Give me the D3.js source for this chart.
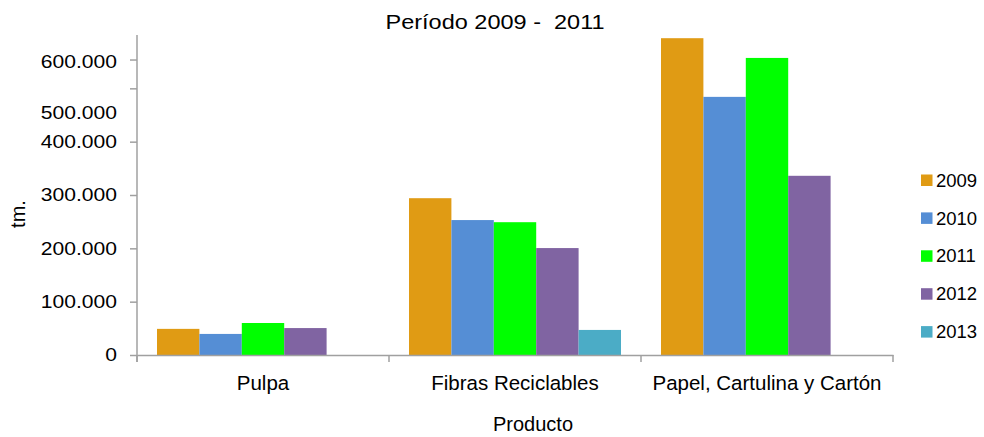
<!DOCTYPE html>
<html>
<head>
<meta charset="utf-8">
<script src="https://cdn.jsdelivr.net/npm/d3@7"></script>
<style>
  body { margin: 0; background: #fff; }
  text { font-family: "Liberation Sans", Arial, sans-serif; fill: #000; }
</style>
</head>
<body>
<div id="chart"></div>
<script>
// data
let categories = ["Pulpa", "Fibras Reciclables", "Papel, Cartulina y Cartón"];
let years = ["2009", "2010", "2011", "2012", "2013"];
let v2009 = [49000, 294000, 594000];
let v2010 = [39500, 253000, 484000];
let v2011 = [60000, 249000, 557000];
let v2012 = [50500, 200500, 336000];
let v2013 = [null, 47000, null];
let colors = ["#E09B14", "#558ED5", "#00FF00", "#8064A2", "#4BACC6"];

// y axis: tick marks and labels do not line up in the original, kept as drawn
let yTickVals = [0, 100000, 200000, 300000, 400000, 500000, 554000];
let yLabelVals = [0, 100000, 200000, 300000, 400000, 454000, 550000];
let yLabelText = ["0", "100.000", "200.000", "300.000", "400.000", "500.000", "600.000"];

let series = [v2009, v2010, v2011, v2012, v2013];

const W = 984, H = 437;
const plotLeft = 137, plotRight = 893, plotTop = 35, base = 355;

let svg = d3.select("#chart").append("svg")
    .attr("width", W)
    .attr("height", H);

let x = d3.scaleBand()
    .domain(categories)
    .range([plotLeft, plotRight]);

let xs = d3.scaleBand()
    .domain(years)
    .range([20, x.bandwidth() - 20]);

let y = d3.scaleLinear()
    .domain([0, 600000])
    .range([base, plotTop]);

// bars
let rows = [];
categories.forEach((c, ci) => {
    years.forEach((yr, yi) => {
        let v = series[yi][ci];
        if (v != null) rows.push({ cat: c, year: yr, value: v, color: colors[yi] });
    });
});

svg.append("g").selectAll("rect")
    .data(rows)
    .join("rect")
    .attr("x", d => x(d.cat) + xs(d.year))
    .attr("y", d => y(d.value))
    .attr("width", xs.bandwidth())
    .attr("height", d => y(0) - y(d.value))
    .attr("fill", d => d.color);

// axes
let axisColor = "#A0A0A0";

let yAxis = svg.append("g")
    .attr("transform", `translate(${plotLeft},0)`)
    .call(d3.axisLeft(y).tickValues(yTickVals).tickFormat("").tickSize(7).tickSizeOuter(0));
yAxis.select(".domain").remove();
yAxis.selectAll("line").attr("stroke", axisColor).attr("stroke-width", 1.5);

svg.append("line")
    .attr("x1", plotLeft).attr("x2", plotLeft)
    .attr("y1", plotTop).attr("y2", base + 7)
    .attr("stroke", axisColor).attr("stroke-width", 1.5);

let xAxis = svg.append("g")
    .attr("transform", `translate(0,${base})`)
    .call(d3.axisBottom(x).tickFormat("").tickSize(0).tickSizeOuter(0));
xAxis.select(".domain").attr("stroke", axisColor).attr("stroke-width", 1.5);

// category separators
let seps = [plotLeft].concat(categories.map(c => x(c) + x.bandwidth()));
svg.append("g").selectAll("line")
    .data(seps)
    .join("line")
    .attr("x1", d => d).attr("x2", d => d)
    .attr("y1", base).attr("y2", base + 7)
    .attr("stroke", axisColor).attr("stroke-width", 1.5);

// y labels (slightly stretched like the original)
svg.append("g").selectAll("text")
    .data(yLabelVals)
    .join("text")
    .attr("transform", d => `translate(117,${y(d)}) scale(1.14,1)`)
    .attr("dy", "0.35em")
    .attr("text-anchor", "end")
    .attr("font-size", "18.5px")
    .text((d, i) => yLabelText[i]);

// category labels
svg.append("g").selectAll("text")
    .data(categories)
    .join("text")
    .attr("x", d => x(d) + x.bandwidth() / 2)
    .attr("y", 389.5)
    .attr("text-anchor", "middle")
    .attr("font-size", "20.5px")
    .text(d => d);

// title (keeps the double space)
svg.append("text")
    .attr("transform", "translate(495,29) scale(1.12,1)")
    .attr("text-anchor", "middle")
    .attr("font-size", "21px")
    .text("Período 2009 -\u00A0 2011");

// axis titles
svg.append("text")
    .attr("x", 533)
    .attr("y", 430.5)
    .attr("text-anchor", "middle")
    .attr("font-size", "20px")
    .text("Producto");

svg.append("text")
    .attr("transform", "translate(25,214) rotate(-90)")
    .attr("text-anchor", "middle")
    .attr("font-size", "20px")
    .text("tm.");

// legend
let legend = svg.append("g").selectAll("g")
    .data(years)
    .join("g")
    .attr("transform", (d, i) => `translate(921,${180 + i * 37.9})`);

legend.append("rect")
    .attr("x", 0).attr("y", -5.5)
    .attr("width", 11.5).attr("height", 11.5)
    .attr("fill", (d, i) => colors[i]);

legend.append("text")
    .attr("x", 15)
    .attr("dy", "0.36em")
    .attr("font-size", "18.5px")
    .text(d => d);
</script>
</body>
</html>
